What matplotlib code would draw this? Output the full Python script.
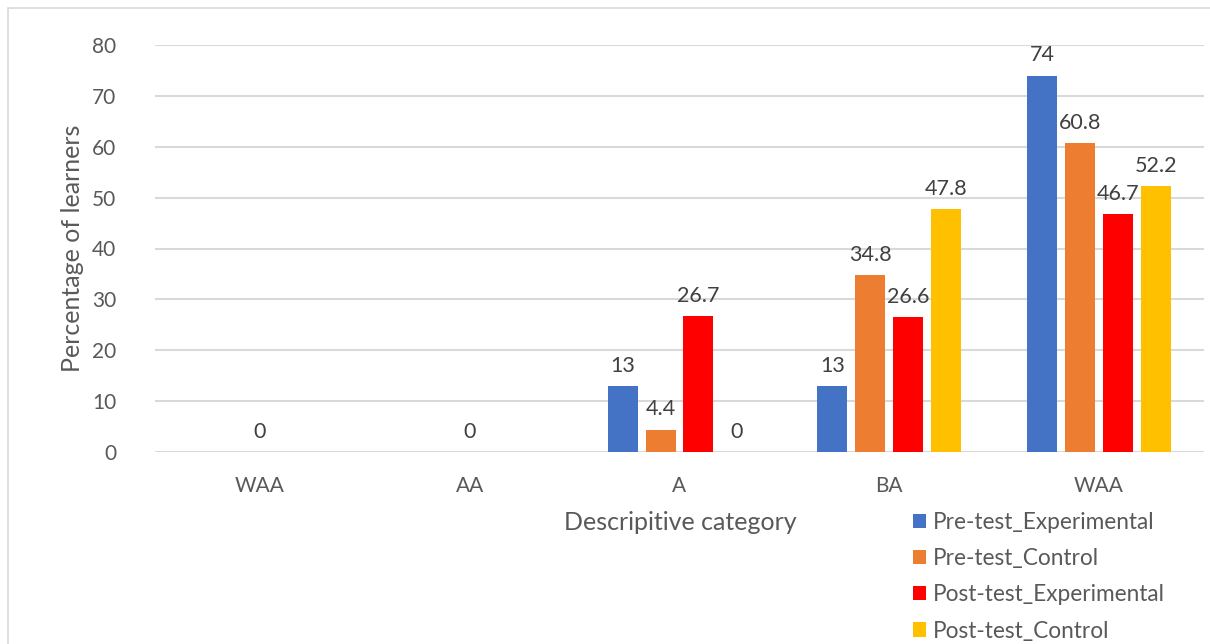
import numpy as np
import matplotlib.pyplot as plt
from matplotlib.patches import Rectangle

categories = ['WAA', 'AA', 'A', 'BA', 'WAA']
series_names = ['Pre-test_Experimental', 'Pre-test_Control',
                'Post-test_Experimental', 'Post-test_Control']
pre_exp = [0, 0, 13, 13, 74]
pre_ctrl = [0, 0, 4.4, 34.8, 60.8]
post_exp = [0, 0, 26.7, 26.6, 46.7]
post_ctrl = [0, 0, 0, 47.8, 52.2]
colors = ['#4472C4', '#ED7D31', '#FF0000', '#FFC000']

plt.rcParams['font.family'] = ['Lato', 'DejaVu Sans']

fig = plt.figure(figsize=(12.1, 6.44), dpi=100)
ax = fig.add_axes([155 / 1210, 1 - 452 / 644, 1049 / 1210, 407 / 644])

# 外枠
fig.patches.append(Rectangle((8 / 1210, -0.1), 1.2, 1 - 8 / 644 + 0.1,
                             transform=fig.transFigure, fill=False,
                             edgecolor='#d9d9d9', linewidth=1.2))

x = np.arange(len(categories))
width = 30 / 210
step = 38 / 210
all_series = [pre_exp, pre_ctrl, post_exp, post_ctrl]

for i, (vals, name, c) in enumerate(zip(all_series, series_names, colors)):
    pos = x + (i - 1.5) * step
    ax.bar(pos, vals, width, color=c, label=name, zorder=3)
    for k, (p, v) in enumerate(zip(pos, vals)):
        # 全系列が0のカテゴリは中央に一つだけ表示
        if all(s[k] == 0 for s in all_series):
            continue
        ax.annotate(f'{v:g}', (p, v), xytext=(0, 14.5), textcoords='offset points',
                    ha='center', va='center', fontsize=15.5, color='#404040')

for k in range(len(categories)):
    if all(s[k] == 0 for s in all_series):
        ax.annotate('0', (k, 0), xytext=(0, 14.5), textcoords='offset points',
                    ha='center', va='center', fontsize=15.5, color='#404040')

ax.set_xlim(-0.5, len(categories) - 0.5)
ax.set_ylim(0, 80)
ax.set_yticks(np.arange(0, 81, 10))
ax.set_xticks(x)
ax.set_xticklabels(categories)
ax.grid(axis='y', color='#d9d9d9', linewidth=1.5, zorder=0)
for s in ax.spines.values():
    s.set_visible(False)
ax.tick_params(axis='both', length=0, labelsize=15, labelcolor='#595959')
ax.tick_params(axis='y', pad=28)
ax.tick_params(axis='x', pad=17)

ax.set_ylabel('Percentage of learners', fontsize=18, color='#595959')
ax.yaxis.set_label_coords(-0.0677, 0.5)
fig.text(680 / 1210, 1 - 522 / 644, 'Descripitive category', fontsize=18,
         color='#595959', ha='center', va='center')

fig.legend(loc='upper left', bbox_to_anchor=(913 / 1210, 1 - 512 / 644),
           frameon=False, fontsize=16.3, handlelength=0.58, handleheight=0.58,
           handletextpad=0.3, labelspacing=0.67, borderpad=0, borderaxespad=0,
           labelcolor='#595959')

fig.savefig('out.png', dpi=100)
